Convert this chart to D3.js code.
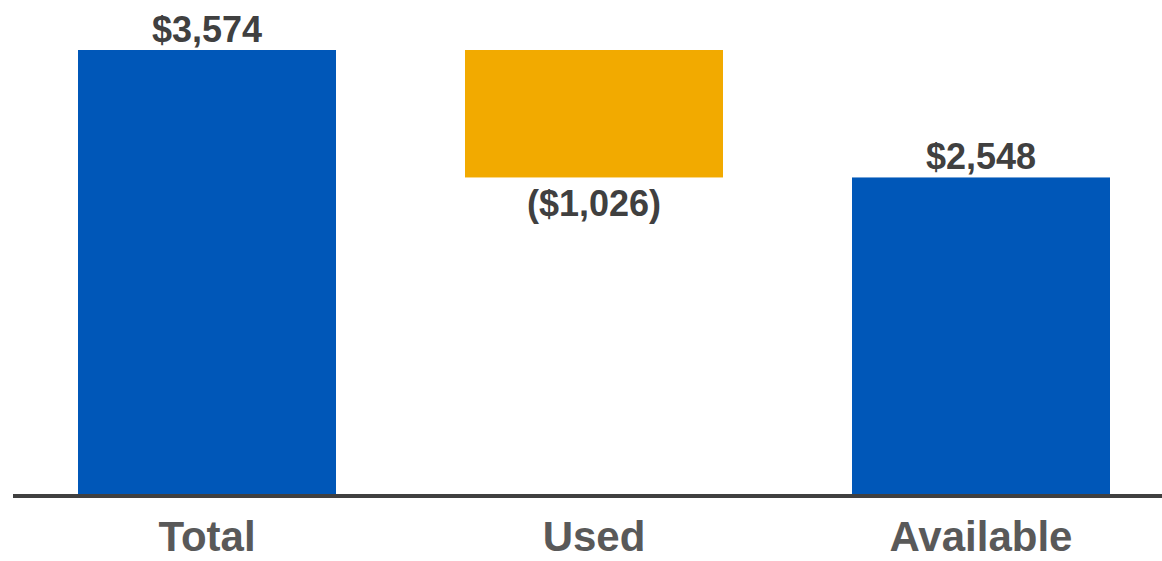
<!DOCTYPE html>
<html>
<head>
<meta charset="utf-8">
<script src="https://cdn.jsdelivr.net/npm/d3@7/dist/d3.min.js"></script>
<style>
  html, body { margin: 0; padding: 0; background: #fff; }
  svg { display: block; }
  text { font-family: "Liberation Sans", Arial, sans-serif; font-weight: bold; }
</style>
</head>
<body>
<svg id="chart" width="1162" height="561"></svg>
<script>
// Waterfall: total, amount used, amount remaining
const categories = ["Total", "Used", "Available"];
const values = [3574, -1026, 2548];
const valueLabels = ["$3,574", "($1,026)", "$2,548"];
const barKinds = ["total", "delta", "total"];

const colors = { total: "#0057B8", delta: "#F2AA00" };

const width = 1162, height = 561;
const baseY = 494, topY = 50;

const svg = d3.select("#chart");

const x = d3.scaleBand()
  .domain(categories)
  .range([13.5, 1174.5])
  .paddingInner(1 / 3)
  .paddingOuter(1 / 6);

const y = d3.scaleLinear()
  .domain([0, values[0]])
  .range([baseY, topY]);

// running start/end for each bar
let running = 0;
const bars = categories.map((c, i) => {
  let start, end;
  if (barKinds[i] === "total") {
    start = 0; end = values[i]; running = values[i];
  } else {
    start = running; end = running + values[i]; running = end;
  }
  return { cat: c, start, end, value: values[i], label: valueLabels[i], kind: barKinds[i] };
});

svg.selectAll("rect.bar")
  .data(bars)
  .join("rect")
  .attr("class", "bar")
  .attr("x", d => x(d.cat))
  .attr("width", x.bandwidth())
  .attr("y", d => y(Math.max(d.start, d.end)))
  .attr("height", d => Math.abs(y(d.start) - y(d.end)))
  .attr("fill", d => colors[d.kind]);

// value labels: above positive bars, below negative ones
svg.selectAll("text.val")
  .data(bars)
  .join("text")
  .attr("class", "val")
  .attr("x", d => x(d.cat) + x.bandwidth() / 2)
  .attr("y", d => d.value >= 0 ? y(Math.max(d.start, d.end)) - 8 : y(Math.min(d.start, d.end)) + 39)
  .attr("text-anchor", "middle")
  .attr("font-size", 36)
  .attr("fill", "#404040")
  .text(d => d.label);

// baseline axis
svg.append("line")
  .attr("x1", 13).attr("x2", width)
  .attr("y1", y(0) + 2).attr("y2", y(0) + 2)
  .attr("stroke", "#404040")
  .attr("stroke-width", 4);

// category labels
svg.selectAll("text.cat")
  .data(categories)
  .join("text")
  .attr("class", "cat")
  .attr("x", d => x(d) + x.bandwidth() / 2)
  .attr("y", 551)
  .attr("text-anchor", "middle")
  .attr("font-size", 42)
  .attr("fill", "#595959")
  .text(d => d);
</script>
</body>
</html>
